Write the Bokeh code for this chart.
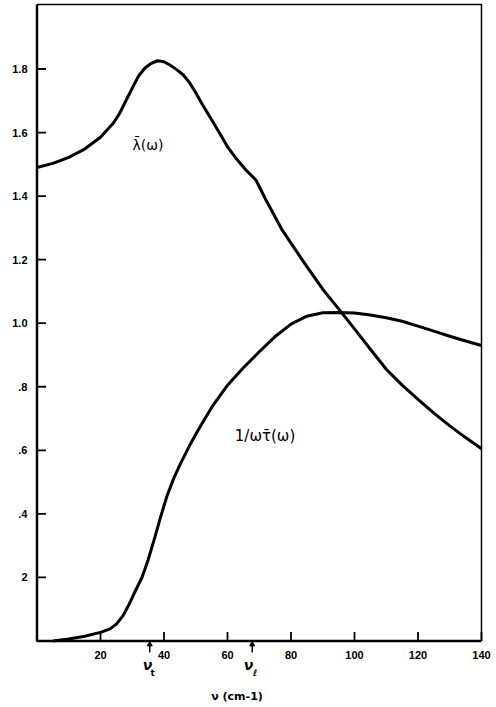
from bokeh.plotting import figure
from bokeh.models import FixedTicker, Range1d
from bokeh.core.properties import value
from bokeh.embed import file_html
from bokeh.resources import INLINE

# lambda-bar(omega)
lam_x = [0, 5, 10, 15, 20, 24, 26, 28, 30, 32, 34, 36, 38, 40, 42, 44, 46, 48, 50, 52, 55,
         58, 60, 63, 66, 69, 72, 77, 81, 85, 90, 95, 100, 105, 110, 115, 120, 125, 130,
         135, 140]
lam_y = [1.49, 1.503, 1.522, 1.548, 1.585, 1.629, 1.66, 1.70, 1.74, 1.778, 1.803, 1.818,
         1.826, 1.823, 1.812, 1.798, 1.782, 1.758, 1.725, 1.69, 1.64, 1.59, 1.555, 1.515,
         1.48, 1.45, 1.39, 1.297, 1.237, 1.178, 1.107, 1.045, 0.982, 0.918, 0.855, 0.805,
         0.76, 0.717, 0.677, 0.64, 0.605]

# 1/(omega tau-bar(omega))
tau_x = [5, 10, 15, 20, 23, 25, 27, 29, 31, 33, 35, 37, 39, 41, 43, 45, 48, 51, 55, 60, 65,
         70, 75, 80, 85, 90, 95, 100, 105, 110, 115, 120, 125, 130, 135, 140]
tau_y = [0.0, 0.006, 0.015, 0.027, 0.038, 0.053, 0.078, 0.115, 0.158, 0.198, 0.255, 0.322,
         0.393, 0.458, 0.51, 0.554, 0.614, 0.668, 0.735, 0.805, 0.86, 0.91, 0.958, 0.997,
         1.022, 1.033, 1.034, 1.032, 1.026, 1.017, 1.006, 0.991, 0.975, 0.959, 0.944, 0.93]

x_ticks = [20, 40, 60, 80, 100, 120, 140]
x_labels = ["20", "40", "60", "80", "100", "120", "140"]
y_ticks = [0.2, 0.4, 0.6, 0.8, 1.0, 1.2, 1.4, 1.6, 1.8]
y_labels = ["2", ".4", ".6", ".8", "1.0", "1.2", "1.4", "1.6", "1.8"]

# axes box limits (data units)
x_min, x_max = 0, 140
y_min, y_max = 0, 2.003

# marked frequencies
nu_x = [35.5, 67.8]
nu_sub = ["t", "ℓ"]

# pixel scale helpers (for layout only)
PX_X = 3.175   # px per x unit
PX_Y = 317.5   # px per y unit
W, H = 496, 707
LEFT = 33

x_lo = x_min - (36.5 - LEFT) / PX_X
x_hi = x_max + (W - 481) / PX_X
y_hi = y_max + 4 / PX_Y
y_lo = y_min - (H - 640.5) / PX_Y

p = figure(width=W, height=H, x_range=Range1d(x_lo, x_hi), y_range=Range1d(y_lo, y_hi),
           output_backend="svg", toolbar_location=None, x_axis_location=None,
           min_border_left=LEFT, min_border_right=0, min_border_top=0, min_border_bottom=0)
p.xgrid.visible = False
p.ygrid.visible = False
p.outline_line_color = None
p.background_fill_color = "white"
p.border_fill_color = "white"

ya = p.yaxis[0]
ya.ticker = FixedTicker(ticks=y_ticks)
ya.major_label_overrides = dict(zip(y_ticks, y_labels))
ya.axis_line_color = None
ya.major_tick_line_color = None
ya.minor_tick_line_color = None
ya.major_tick_in = 0
ya.major_tick_out = 0
ya.major_label_standoff = 6
ya.major_label_text_font = "Liberation Sans"
ya.major_label_text_font_style = "bold"
ya.major_label_text_font_size = "11px"
ya.major_label_text_color = "black"

# axes box: left + bottom heavy, top + right lighter
p.line([x_min, x_min, x_max], [y_max, y_min, y_min], line_width=2.5, line_color="black")
p.line([x_min, x_max, x_max], [y_max, y_max, y_min], line_width=1.5, line_color="black")

# inward ticks
tick_dx = 9 / PX_X
tick_dy = 9 / PX_Y
p.segment(x0=[x_min] * len(y_ticks), y0=y_ticks, x1=[x_min + tick_dx] * len(y_ticks),
          y1=y_ticks, line_width=1.8, line_color="black")
p.segment(x0=x_ticks, y0=[y_min] * len(x_ticks), x1=x_ticks,
          y1=[y_min + tick_dy] * len(x_ticks), line_width=1.8, line_color="black")

# x tick labels
p.text(x=x_ticks, y=[y_min - 14.5 / PX_Y] * len(x_ticks), text=x_labels,
       text_font=value("Liberation Sans"), text_font_style="bold", text_font_size="11px",
       text_align="center", text_baseline="middle", text_color="black")

# curves
p.line(lam_x, lam_y, line_width=3, line_color="black", line_join="round")
p.line(tau_x, tau_y, line_width=3, line_color="black", line_join="round")

# curve labels
p.text(x=[30.1], y=[1.561], text=["λ\u0304(ω)"], text_font=value("DejaVu Sans"),
       text_font_size="14px", text_baseline="middle", text_color="black")
p.text(x=[62.3], y=[0.644], text=["1/ωτ\u0304(ω)"], text_font=value("DejaVu Sans"),
       text_font_size="15px", text_baseline="middle", text_color="black")

# arrows marking nu_t and nu_l
p.segment(x0=nu_x, y0=[y_min - 11.5 / PX_Y] * 2, x1=nu_x, y1=[y_min - 3 / PX_Y] * 2,
          line_width=1.5, line_color="black")
p.scatter(x=nu_x, y=[y_min - 3.5 / PX_Y] * 2, marker="triangle", size=5,
          fill_color="black", line_color="black")

# nu labels with subscripts
p.text(x=[nu_x[0] - 0.7, nu_x[1] - 1.2], y=[y_min - 24 / PX_Y] * 2, text=["ν", "ν"],
       text_font=value("DejaVu Sans"), text_font_size="14px", text_font_style="bold italic",
       text_align="center", text_baseline="middle", text_color="black")
p.text(x=[nu_x[0] + 0.9, nu_x[1] + 0.9], y=[y_min - 32 / PX_Y] * 2, text=nu_sub,
       text_font=value("DejaVu Sans"), text_font_size="9px", text_font_style="bold",
       text_align="center", text_baseline="middle", text_color="black")

# axis title
p.text(x=[63.0], y=[y_min - 56 / PX_Y], text=["ν (cm-1)"], text_font=value("DejaVu Sans"),
       text_font_size="11px", text_font_style="bold", text_align="center",
       text_baseline="middle", text_color="black")

open("out.html", "w").write(file_html(p, INLINE))
